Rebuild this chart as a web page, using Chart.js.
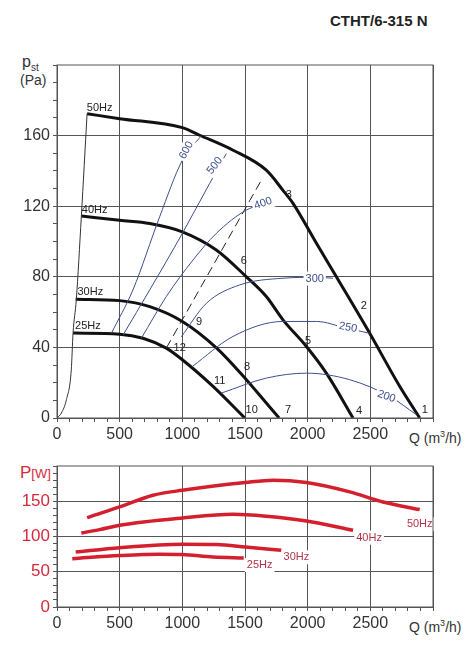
<!DOCTYPE html>
<html><head><meta charset="utf-8">
<script src="https://cdn.jsdelivr.net/npm/chart.js@4"></script>
<style>
body{margin:0;width:474px;height:648px;background:#fff;position:relative;font-family:"Liberation Sans",Arial,sans-serif;overflow:hidden}
canvas{position:absolute;left:0}
.t{position:absolute;white-space:nowrap;color:#333}
</style></head><body>
<div class="t" style="left:330px;top:12px;font-size:15px;font-weight:bold;color:#222">CTHT/6-315 N</div>
<div class="t" style="left:22px;top:53px;font-size:16px">p<sub style="font-size:10px">st</sub></div>
<div class="t" style="left:20px;top:72px;font-size:14px">(Pa)</div>
<div class="t" style="left:409px;top:429px;font-size:14px">Q (m<sup style="font-size:9px">3</sup>/h)</div>
<div class="t" style="left:20px;top:463px;font-size:17px;color:#d42a3a">P<span style="font-size:13px">[W]</span></div>
<div class="t" style="left:409px;top:618px;font-size:14px">Q (m<sup style="font-size:9px">3</sup>/h)</div>
<canvas id="c1" style="top:0" width="474" height="450"></canvas>
<canvas id="c2" style="top:450px" width="474" height="198"></canvas>
<script>
// ---- Pressure curves (Q m3/h, pst Pa)
const q50=[240,500,1000,1138,1405,1670,1803,1883,2070,2229,2495,2734,2894];
const p50=[172.4,169.6,164.5,160.2,151.7,140.4,129,121.6,99,80,48,18,0];
const q40=[194,500,740,1000,1271,1511,1670,1803,1990,2149,2362];
const p40=[114.4,112,110.2,105.5,95.2,80,68.8,55.6,40.5,25.4,0];
const q30=[149,500,740,1000,1274,1511,1670,1772];
const p30=[67.3,66.5,63.1,54.7,39.6,21.7,8.5,0];
const q25=[128,500,686,872,1000,1245,1498];
const p25=[48.1,47.5,45.2,39.6,33,17.9,0];
const qStart=[0,35,75,114,128,154,194,240];
const pStart=[0,2.8,10.4,27.3,48,67,114,172.4];
// ---- Speed (rpm) curves
const q600=[434,606,819,1000,1152], p600=[48,72.6,114,146,160];
const q500=[527,740,1000,1218,1351], p500=[47,72.6,104.6,132.9,149.8];
const q400=[673,872,1085,1271,1511,1724], p400=[45.2,68.8,89.5,104.6,117.8,122.5];
const q300=[992,1192,1458,1803,2070,2202], p300=[46,65,75.4,79.2,79.7,79.2];
const q250=[1080,1404,1803,2070,2309,2495], p250=[29.2,46.2,54.7,54.7,50.9,48];
const q200=[1311,1670,1990,2335,2655,2867], p200=[14.1,22.6,25.4,21.7,12.2,1.9];
const qDash=[872,1623], pDash=[39.6,133.8];
// ---- Power curves (Q, P W)
const qw50=[240,500,766,1000,1503,1724,1990,2335,2601,2894];
const w50=[126.8,142,158.5,165.6,176.5,179.8,176.5,163.3,149,138.2];
const qw40=[194,340,500,1000,1404,1670,1990,2362];
const w40=[105,109.8,116,126.3,131.5,128.7,122,108.8];
const qw30=[149,500,1000,1271,1503,1790];
const w30=[78,84.2,89,88.5,85.2,80.4];
const qw25=[122,500,819,1000,1245,1490];
const w25=[68.6,72.9,74.8,74.3,71,69.6];
// ---- labels
const freqLabels=['50Hz','40Hz','30Hz','25Hz'];
const freqLabQ=[340,300,266,247], freqLabP=[175.8,118,71.6,52.2];
const numLabels=['1','2','3','4','5','6','7','8','9','10','11','12'];
const numQ=[2934,2447,1849,2410,2003,1490,1843,1516,1133,1553,1298,979];
const numP=[4.3,63.5,126.5,3.8,43.9,89,4.3,28.8,54.3,4.3,21.1,39.6];
const rpmLabels=['600','500','400','300','250','200'];
const rpmQ=[1032,1258,1644,2056,2322,2628], rpmP=[151.7,143,121.6,79,51.3,12.2];
const rpmRot=[-62,-52,-20,0,10,20];
const pwLabQ=[2894,2490,1910,1617], pwLabP=[126.3,107.4,79.5,68.6];

const pts=(qs,ps)=>qs.map((x,i)=>({x,y:ps[i]}));
function ds(qs,ps,color,w,dash){return{data:pts(qs,ps),showLine:true,borderColor:color,borderWidth:w,pointRadius:0,cubicInterpolationMode:'monotone',borderDash:dash||[],fill:false};}
const font={family:"'Liberation Sans',Arial,sans-serif",size:16};
function xScale(h){return{type:'linear',min:0,max:3000,
  ticks:{stepSize:100,autoSkip:false,maxRotation:0,color:'#333',font,callback:v=>(v%500===0&&v<3000)?v:''},
  grid:{color:c=>c.tick&&c.tick.value%500===0?'#555':'transparent',tickColor:'#555',tickLength:4,lineWidth:1},
  border:{color:'#555'},afterFit:s=>{s.height=h;}};}
function labelPlugin(list){return{id:'lbl'+Math.random(),afterDatasetsDraw(ch){const c=ch.ctx,xs=ch.scales.x,ys=ch.scales.y;
  list.forEach(l=>{c.save();c.translate(xs.getPixelForValue(l.x),ys.getPixelForValue(l.y));c.rotate((l.r||0)*Math.PI/180);
  c.font=(l.size||11)+"px 'Liberation Sans',Arial,sans-serif";c.textAlign='center';c.textBaseline='middle';
  if(l.bg){const w=c.measureText(l.t).width+4;c.fillStyle='#fff';c.fillRect(-w/2,-7,w,14);}
  c.fillStyle=l.c||'#222';c.fillText(l.t,0,0);c.restore();});}};}

const labels1=[];
freqLabels.forEach((t,i)=>labels1.push({x:freqLabQ[i],y:freqLabP[i],t,size:11}));
numLabels.forEach((t,i)=>labels1.push({x:numQ[i],y:numP[i],t,size:11}));
rpmLabels.forEach((t,i)=>labels1.push({x:rpmQ[i],y:rpmP[i],t,r:rpmRot[i],bg:true,c:'#3d4f8c',size:11}));
const labels2=freqLabels.map((t,i)=>({x:pwLabQ[i],y:pwLabP[i]-9,t,c:'#b3324a',size:11,bg:true}));

const blue='#3d4f8c';
new Chart(document.getElementById('c1'),{type:'scatter',
 data:{datasets:[ds(q600,p600,blue,1),ds(q500,p500,blue,1),ds(q400,p400,blue,1),ds(q300,p300,blue,1),ds(q250,p250,blue,1),ds(q200,p200,blue,1),
  ds(qDash,pDash,'#222',1,[9,5]),ds(qStart,pStart,'#333',1),
  ds(q50,p50,'#111',3),ds(q40,p40,'#111',3),ds(q30,p30,'#111',3),ds(q25,p25,'#111',3)]},
 options:{responsive:false,animation:false,layout:{padding:{top:65,right:41,left:0,bottom:0}},
  plugins:{legend:{display:false},tooltip:{enabled:false}},
  scales:{x:xScale(32),y:{min:0,max:200,afterFit:s=>{s.width=57;},
   ticks:{stepSize:10,autoSkip:false,color:'#333',font,callback:v=>(v%40===0&&v<200)?v:''},
   grid:{color:c=>c.tick&&c.tick.value%40===0&&c.tick.value<200?'#555':'transparent',tickColor:'#555',tickLength:4},border:{color:'#555'}}}},
 plugins:[labelPlugin(labels1),{id:'frame',afterDraw(ch){const a=ch.chartArea,c=ch.ctx;c.strokeStyle='#555';c.lineWidth=1;c.strokeRect(a.left,a.top,a.right-a.left,a.bottom-a.top);}}]});

const red='#d4202e';
new Chart(document.getElementById('c2'),{type:'scatter',
 data:{datasets:[ds(qw50,w50,red,3.5),ds(qw40,w40,red,3.5),ds(qw30,w30,red,3.5),ds(qw25,w25,red,3.5)]},
 options:{responsive:false,animation:false,layout:{padding:{top:16,right:41,left:0,bottom:0}},
  plugins:{legend:{display:false},tooltip:{enabled:false}},
  scales:{x:xScale(41),y:{min:0,max:200,afterFit:s=>{s.width=57;},
   ticks:{stepSize:10,autoSkip:false,color:'#d42a3a',font:{...font,size:17},callback:v=>(v%50===0&&v<200)?v:''},
   grid:{color:c=>c.tick&&c.tick.value%50===0&&c.tick.value<200?'#555':'transparent',tickColor:'#555',tickLength:4},border:{color:'#555'}}}},
 plugins:[labelPlugin(labels2),{id:'frame2',afterDraw(ch){const a=ch.chartArea,c=ch.ctx;c.strokeStyle='#555';c.lineWidth=1;c.strokeRect(a.left,a.top,a.right-a.left,a.bottom-a.top);}}]});
</script></body></html>
